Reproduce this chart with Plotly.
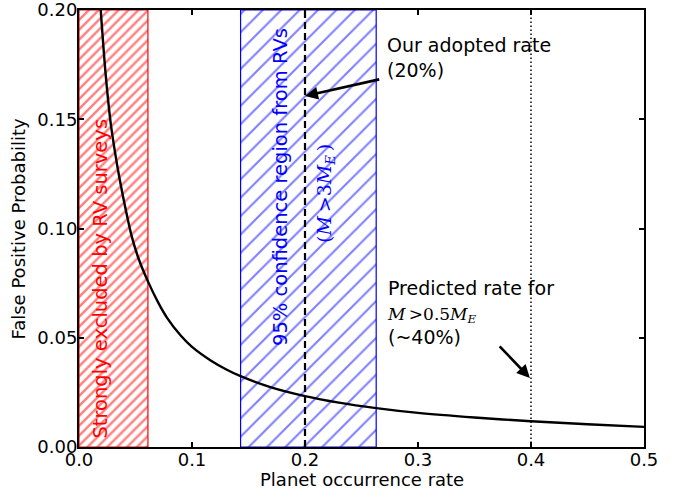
import plotly.graph_objects as go

# Data
rate = [0.0192, 0.0235, 0.0281, 0.032, 0.036, 0.041, 0.0466, 0.053, 0.061, 0.07,
        0.0781, 0.09, 0.1, 0.1165, 0.13, 0.143, 0.17, 0.2, 0.23, 0.263, 0.3, 0.35,
        0.4, 0.45, 0.5]
fpp = [0.2, 0.171, 0.148, 0.1345, 0.1225, 0.1095, 0.0965, 0.0858, 0.0758, 0.0662,
       0.059, 0.051, 0.0458, 0.0396, 0.0356, 0.0324, 0.0273, 0.0233, 0.0203, 0.0178,
       0.0156, 0.0135, 0.0118, 0.0104, 0.0092]

excluded_region = [0.0, 0.061]
rv_confidence_region = [0.143, 0.263]
adopted_rate = 0.2
predicted_rate = 0.4

x_ticks = [0.0, 0.1, 0.2, 0.3, 0.4, 0.5]
y_ticks = [0.0, 0.05, 0.10, 0.15, 0.20]

FONT = "DejaVu Sans"
fig = go.Figure()


def band(x0, x1, color, size, sol):
    fig.add_trace(go.Scatter(
        x=[x0, x1, x1, x0, x0], y=[0, 0, 0.2, 0.2, 0],
        mode="lines", fill="toself",
        line=dict(color=color, width=1.2),
        fillcolor="rgba(255,255,255,0)",
        fillpattern=dict(shape="/", fgcolor=color, bgcolor="rgba(255,255,255,0)",
                         size=size, solidity=sol),
        hoverinfo="skip", showlegend=False))


band(excluded_region[0], excluded_region[1], "red", 7, 0.35)
band(rv_confidence_region[0], rv_confidence_region[1], "blue", 13, 0.16)

fig.add_trace(go.Scatter(x=[adopted_rate, adopted_rate], y=[0, 0.2], mode="lines",
                         line=dict(color="black", width=2.2, dash="7px,4px"),
                         showlegend=False, hoverinfo="skip"))
fig.add_trace(go.Scatter(x=[predicted_rate, predicted_rate], y=[0, 0.2], mode="lines",
                         line=dict(color="black", width=1.5, dash="1.5px,2.5px"),
                         showlegend=False, hoverinfo="skip"))
fig.add_trace(go.Scatter(x=rate, y=fpp, mode="lines",
                         line=dict(color="black", width=2.4, shape="spline", smoothing=0.8),
                         showlegend=False))

ann = []
ann.append(dict(x=0.0195, y=0.0771, text="Strongly excluded by RV surveys", textangle=-90,
                showarrow=False, font=dict(family=FONT, size=19.5, color="red")))
ann.append(dict(x=0.1788, y=0.119, text="95% confidence region from RVs", textangle=-90,
                showarrow=False, font=dict(family=FONT, size=19.5, color="blue")))
ann.append(dict(x=0.218, y=0.116,
                text="(<i>M</i>&#8201;&gt;3<i>M</i><sub><i>E</i></sub>&#8201;)", textangle=-90,
                showarrow=False, font=dict(family="DejaVu Serif", size=19, color="blue")))
ann.append(dict(x=0.271, y=0.190, text="Our adopted rate<br>(20%)", align="left",
                xanchor="left", yanchor="top", showarrow=False,
                font=dict(family=FONT, size=19, color="black")))
ann.append(dict(x=0.2, y=0.1606, ax=0.267, ay=0.1684, axref="x", ayref="y",
                text="", showarrow=True, arrowhead=2, arrowsize=1, arrowwidth=2.6,
                arrowcolor="black"))
ann.append(dict(x=0.271, y=0.0785,
                text=("Predicted rate for<br><span style='font-family:DejaVu Serif;font-size:17px'>"
                      "<i>M</i>&#8201;&gt;0.5<i>M</i><sub><i>E</i></sub></span><br>(~40%)"),
                align="left", xanchor="left", yanchor="top", showarrow=False,
                font=dict(family=FONT, size=19, color="black")))
ann.append(dict(x=0.399, y=0.0316, ax=0.371, ay=0.0467, axref="x", ayref="y",
                text="", showarrow=True, arrowhead=2, arrowsize=1, arrowwidth=2.6,
                arrowcolor="black"))
for a in ann:
    a.setdefault("xref", "x")
    a.setdefault("yref", "y")
# axis titles
ann.append(dict(xref="paper", yref="paper", x=0.5, y=0, yshift=-32, yanchor="middle",
                text="Planet occurrence rate", showarrow=False,
                font=dict(family=FONT, size=18, color="black")))
ann.append(dict(xref="paper", yref="paper", x=0, y=0.5, xshift=-61, xanchor="center",
                text="False Positive Probability", textangle=-90, showarrow=False,
                font=dict(family=FONT, size=18, color="black")))
fig.update_layout(annotations=ann)

axis_common = dict(showline=True, linecolor="black", linewidth=2, mirror="ticks",
                   ticks="inside", ticklen=5, tickwidth=1.5, tickcolor="black",
                   showgrid=False, zeroline=False, automargin=False,
                   ticklabeloverflow="allow",
                   tickfont=dict(family=FONT, size=18, color="black"))
fig.update_xaxes(range=[0, 0.5], tickvals=x_ticks, ticktext=[f"{v:.1f}" for v in x_ticks],
                 ticklabelstandoff=-5, **axis_common)
fig.update_yaxes(range=[0, 0.2], tickvals=y_ticks, ticktext=[f"{v:.2f}" for v in y_ticks],
                 ticklabelstandoff=-4, **axis_common)
fig.update_layout(width=678, height=488, margin=dict(l=79, r=34, t=10, b=41),
                  plot_bgcolor="white", paper_bgcolor="white")
fig.write_html("out.html")
